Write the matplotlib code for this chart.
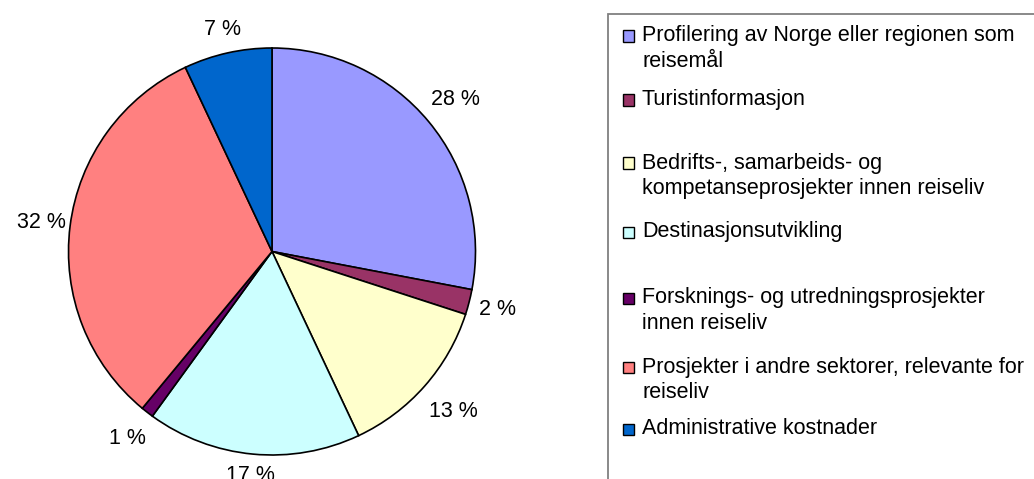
import numpy as np
import matplotlib.pyplot as plt
from matplotlib.patches import Rectangle

plt.rcParams['font.family'] = ['Liberation Sans', 'DejaVu Sans']

# Data
labels = ['Profilering av Norge eller regionen som\nreisemål',
          'Turistinformasjon',
          'Bedrifts-, samarbeids- og\nkompetanseprosjekter innen reiseliv',
          'Destinasjonsutvikling',
          'Forsknings- og utredningsprosjekter\ninnen reiseliv',
          'Prosjekter i andre sektorer, relevante for\nreiseliv',
          'Administrative kostnader']
shares = [28, 2, 13, 17, 1, 32, 7]
colors = ['#9999FF', '#993366', '#FFFFCC', '#CCFFFF', '#660066', '#FF8080', '#0066CC']

# Layout (pixels)
W, H = 1034, 479
cx, cy, R = 272, 251.5, 203.5
label_dist = [1.17, 1.145, 1.19, 1.105, 1.16, 1.14, 1.12]
legend_y = [36, 100, 163, 232, 298, 367, 429]
line_step = 25.5
fs = 15.5

fig = plt.figure(figsize=(W / 100, H / 100), dpi=100)
ax = fig.add_axes([(cx - R) / W, (H - cy - R) / H, 2 * R / W, 2 * R / H])

wedges, texts, autotexts = ax.pie(shares, colors=colors, startangle=90, counterclock=False,
                                  autopct=lambda p: '%d %%' % round(p), pctdistance=1.15,
                                  wedgeprops=dict(edgecolor='black', linewidth=1.2),
                                  textprops=dict(fontsize=fs, color='black'))
ax.set_xlim(-1, 1)
ax.set_ylim(-1, 1)
ax.set_aspect('equal')

# move percent labels to where they sit in the original
for w, t, d in zip(wedges, autotexts, label_dist):
    ang = np.deg2rad((w.theta1 + w.theta2) / 2)
    t.set_position((d * np.cos(ang), d * np.sin(ang)))
    t.set_clip_on(False)

# Legend box, runs off the right and bottom edges
fig.patches.append(Rectangle((608 / W, -0.1), 1.0, (H - 14) / H + 0.1, transform=fig.transFigure,
                             facecolor='none', edgecolor='#808080', linewidth=1.3))

for lab, col, y in zip(labels, colors, legend_y):
    fig.patches.append(Rectangle((623 / W, (H - y - 5.5) / H), 11 / W, 11 / H,
                                 transform=fig.transFigure, facecolor=col,
                                 edgecolor='black', linewidth=1))
    for i, line in enumerate(lab.split('\n')):
        fig.text(642 / W, (H - y - i * line_step) / H, line, fontsize=fs,
                 ha='left', va='center')

fig.savefig('out.png', dpi=100)
